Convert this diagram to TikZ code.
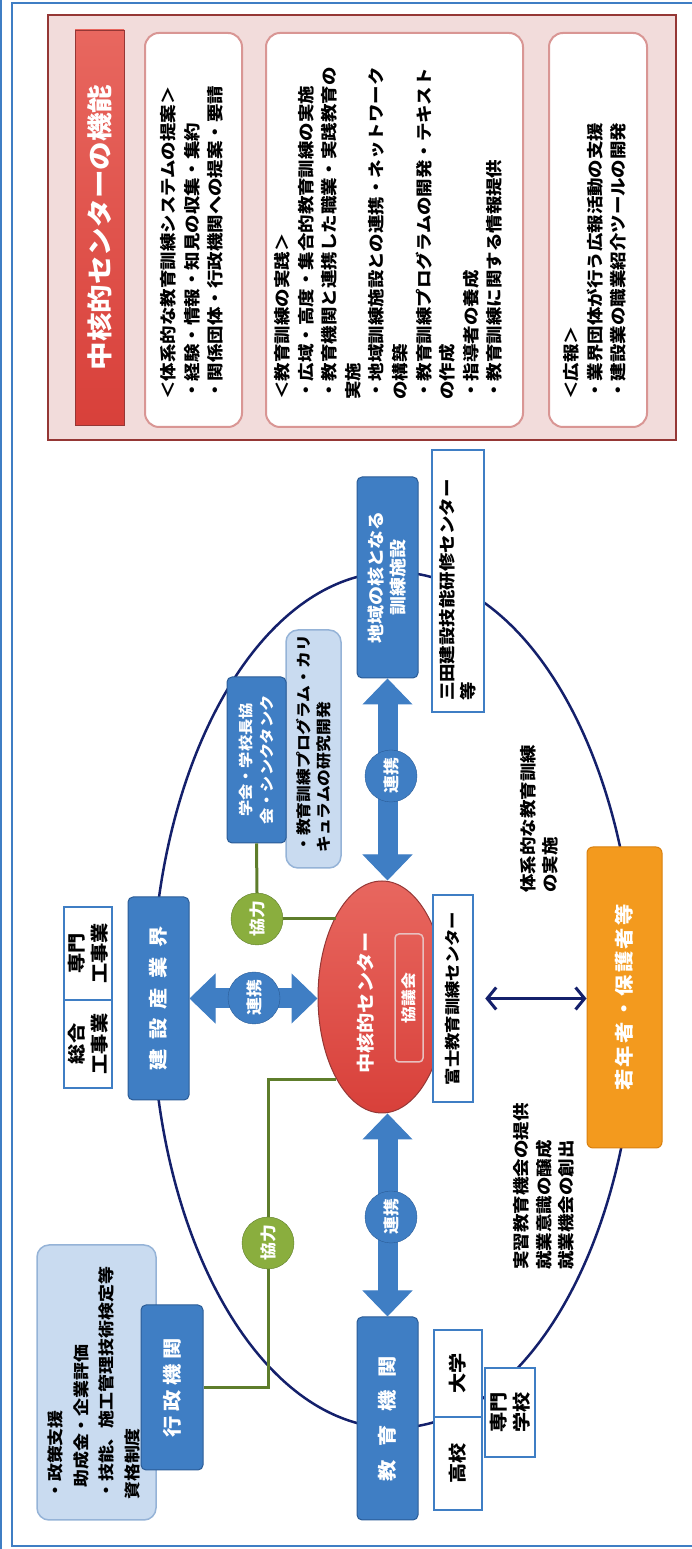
\documentclass[tikz,border=0pt]{standalone}
\usepackage{fontspec}
\setmainfont{Noto Sans CJK JP}[FakeStretch=1.12]
\usetikzlibrary{arrows.meta,positioning,shapes.geometric}
\definecolor{fBlue}{HTML}{3F7EC4}
\definecolor{fBlueD}{HTML}{2B5C96}
\definecolor{fNavy}{HTML}{14206B}
\definecolor{fRed}{HTML}{D8403A}
\definecolor{fRedL}{HTML}{E8675F}
\definecolor{fRedD}{HTML}{953735}
\definecolor{fPink}{HTML}{F2DCDB}
\definecolor{fRose}{HTML}{D99694}
\definecolor{fOrange}{HTML}{F39A1E}
\definecolor{fOrangeD}{HTML}{D9800F}
\definecolor{fGreen}{HTML}{8AAE3E}
\definecolor{fGreenD}{HTML}{5E7D2B}
\definecolor{fSky}{HTML}{C9DBF0}
\definecolor{fSkyD}{HTML}{95B3D7}
\tikzset{
  frm/.style  = {draw=fBlue, line width=2.5pt},
  pnl/.style  = {draw=fRedD, fill=fPink, line width=2.5pt, inner sep=0pt},
  hdr/.style  = {draw=fRedD, top color=fRedL, bottom color=fRed, text=white, inner sep=0pt,
                 font=\fontsize{25.5}{28}\bfseries},
  wbx/.style  = {draw=fRose, fill=white, line width=2pt, rounded corners=14pt, inner sep=0pt},
  txt/.style  = {align=left, anchor=west, inner sep=0pt,
                 font=\fontsize{16.5}{23.6}\bfseries},
  bx/.style   = {draw=fBlueD, fill=fBlue, rounded corners=5pt, text=white, align=center,
                 inner sep=0pt, line width=1pt, font=\fontsize{19}{24}\bfseries},
  lb/.style   = {draw=fBlue, fill=white, line width=2.5pt, inner sep=0pt, align=center,
                 font=\fontsize{18}{23}\bfseries},
  sky/.style  = {draw=fSkyD, fill=fSky, rounded corners=12pt, line width=1.5pt, inner sep=0pt},
  rk/.style   = {circle, draw=fBlueD, fill=fBlue, text=white, minimum size=52pt,
                 inner sep=0pt, font=\fontsize{16}{18}\bfseries},
  kr/.style   = {circle, draw=fGreenD, fill=fGreen, text=white, minimum size=52pt,
                 inner sep=0pt, font=\fontsize{16}{18}\bfseries},
  ba/.style   = {draw=fBlue, line width=20pt,
                 {Triangle[length=26pt,width=50pt,line width=1pt]}-{Triangle[length=26pt,width=50pt,line width=1pt]}},
  gl/.style   = {draw=fGreenD, line width=3pt},
  na/.style   = {draw=fNavy, line width=3pt,
                 {Straight Barb[length=9pt,width=22pt]}-{Straight Barb[length=9pt,width=22pt]}},
}

\begin{document}
\begin{tikzpicture}[rotate=90, transform shape, x=1pt, y=-1pt]
  \useasboundingbox (0,0) rectangle (1549,691);
  % outer frame
  \draw[frm] (3,12) rectangle (1546,720);
  \draw[frm] (0,1) -- (1549,1);

  % functions of the core centre
  \node[pnl, minimum width=425pt, minimum height=628pt] (func) at (1321.5,362) {};
  \node[hdr, minimum width=395pt, minimum height=49pt] (ttl) at (1321.5,99.5)
       {中核的センターの機能};
  \node[wbx, minimum width=394pt, minimum height=97pt]  (fbA) at (1319,193.5) {};
  \node[wbx, minimum width=394pt, minimum height=257pt] (fbB) at (1319,394.5) {};
  \node[wbx, minimum width=394pt, minimum height=98pt]  (fbC) at (1319,598) {};
  \node[txt] (fbAt) at (1149,192)
       {＜体系的な教育訓練システムの提案＞\\・経験・情報・知見の収集・集約\\・関係団体・行政機関への提案・要請};
  \node[txt] (fbBt) at (1149,388.5)
       {＜教育訓練の実践＞\\・広域・高度・集合的教育訓練の実施\\・教育機関と連携した職業・実践教育の\\実施\\
        ・地域訓練施設との連携・ネットワーク\\の構築\\・教育訓練プログラムの開発・テキスト\\の作成\\
        ・指導者の養成\\・教育訓練に関する情報提供};
  \node[txt] (fbCt) at (1149,595)
       {＜広報＞\\・業界団体が行う広報活動の支援\\・建設業の職業紹介ツールの開発};

  % ring of partners
  \node[ellipse, draw=fNavy, line width=2.5pt, minimum width=856pt, minimum height=484pt] (ring) at (549,394) {};

  \node[ellipse, top color=fRedL, bottom color=fRed, draw=fRedD, line width=1pt,
        minimum width=232pt, minimum height=128pt] (chukaku) at (552,382) {};
  \node[text=white, inner sep=0pt, font=\fontsize{18}{20}\bfseries] (chukakut) at (546,366) {中核的センター};
  \node[draw=fRose!60!white, line width=1.5pt, rounded corners=4pt, minimum width=128pt, minimum height=28pt,
        inner sep=0pt, text=white, font=\fontsize{15}{17}\bfseries] (kyogi) at (551,409) {協議会};
  \node[lb, minimum width=207pt, minimum height=40pt, font=\fontsize{15.5}{20}\bfseries] (fuji) at (550.5,453)
       {富士教育訓練センター};

  \node[bx, minimum width=201pt, minimum height=61pt, font=\fontsize{17}{22}\bfseries] (chiiki) at (971.5,387.5)
       {地域の核となる\\訓練施設};
  \node[lb, minimum width=262pt, minimum height=52pt, align=left, font=\fontsize{16.5}{21}\bfseries] (mita) at (968,458)
       {\makebox[240pt][l]{三田建設技能研修センター}\\\makebox[240pt][l]{等}};

  \node[sky, minimum width=238pt, minimum height=55pt] (kenkyu) at (800,313.5) {};
  \node[txt, font=\fontsize{15}{20}\bfseries] (kenkyut) at (696,313.5)
       {・教育訓練プログラム・カリ\\キュラムの研究開発};
  \node[bx, minimum width=166pt, minimum height=59pt, font=\fontsize{14.5}{21}\bfseries] (gakkai) at (789,256.5)
       {学会・学校長協\\会・シンクタンク};

  \node[bx, minimum width=203pt, minimum height=61pt,
        font=\fontsize{19}{24}\bfseries\addfontfeatures{LetterSpace=50}] (kensetsu) at (550.5,158.5) {建設産業界};
  \node[lb, minimum width=88pt, minimum height=48pt] (sogo) at (505,88) {総合\\工事業};
  \node[lb, minimum width=93pt, minimum height=48pt] (senmon) at (595.5,88) {専門\\工事業};

  \node[sky, minimum width=275pt, minimum height=119pt] (seisaku) at (166.5,96.5) {};
  \node[txt, font=\fontsize{16}{25.7}\bfseries] (seisakut) at (49,94)
       {・政策支援\\\hspace*{12pt}助成金・企業評価\\・技能、施工管理技術検定等\\資格制度};
  \node[bx, minimum width=165pt, minimum height=62pt,
        font=\fontsize{19}{24}\bfseries\addfontfeatures{LetterSpace=25}] (gyosei) at (161.5,172) {行政機関};

  \node[bx, minimum width=203pt, minimum height=61pt,
        font=\fontsize{19}{24}\bfseries\addfontfeatures{LetterSpace=70}] (kyoiku) at (130.5,387.5) {教育機関};
  \node[lb, minimum width=93pt, minimum height=48pt] (koko) at (85.5,458) {高校};
  \node[lb, minimum width=87pt, minimum height=48pt] (daigaku) at (175.5,458) {大学};
  \node[lb, minimum width=89pt, minimum height=50pt] (senmonG) at (136.5,510) {専門\\学校};

  \node[fill=fOrange, draw=fOrangeD, line width=1pt, rounded corners=6pt, minimum width=301pt, minimum height=75pt,
        text=white, font=\fontsize{19}{24}\bfseries\addfontfeatures{LetterSpace=12}] (jakunen) at (551.5,624.5)
       {若年者・保護者等};

  \node[txt, font=\fontsize{16.5}{22}\bfseries] (jisshi) at (656,539) {体系的な教育訓練\\の実施};
  \node[txt, font=\fontsize{16.5}{22.5}\bfseries] (kikai) at (279,544)
       {実習教育機会の提供\\就業意識の醸成\\就業機会の創出};

  % cooperation lines
  \node[kr] (kyoA) at (630,257) {協力};
  \node[kr] (kyoB) at (306,268) {協力};
  \draw[gl] (gakkai.west) -- (kyoA.east);
  \draw[gl] (kyoA.south) -- (kyoA |- chukaku.north east);
  \draw[gl] (chukaku.north west) |- (kyoB.east);
  \draw[gl] (kyoB.west) -| (gyosei.south);

  % links
  \draw[ba] (chiiki.west) -- (chiiki.west -| chukaku.east);
  \draw[ba] (kyoiku.east) -- (kyoiku.east -| chukaku.west);
  \draw[ba] (kensetsu.south) -- (kensetsu.south |- chukaku.north);
  \node[rk] (renA) at (773,391) {連携};
  \node[rk] (renB) at (332,391) {連携};
  \node[rk] (renC) at (551,254) {連携};
  \draw[na, shorten <=11pt] (fuji.south) -- (fuji.south |- jakunen.north);
\end{tikzpicture}
\end{document}
